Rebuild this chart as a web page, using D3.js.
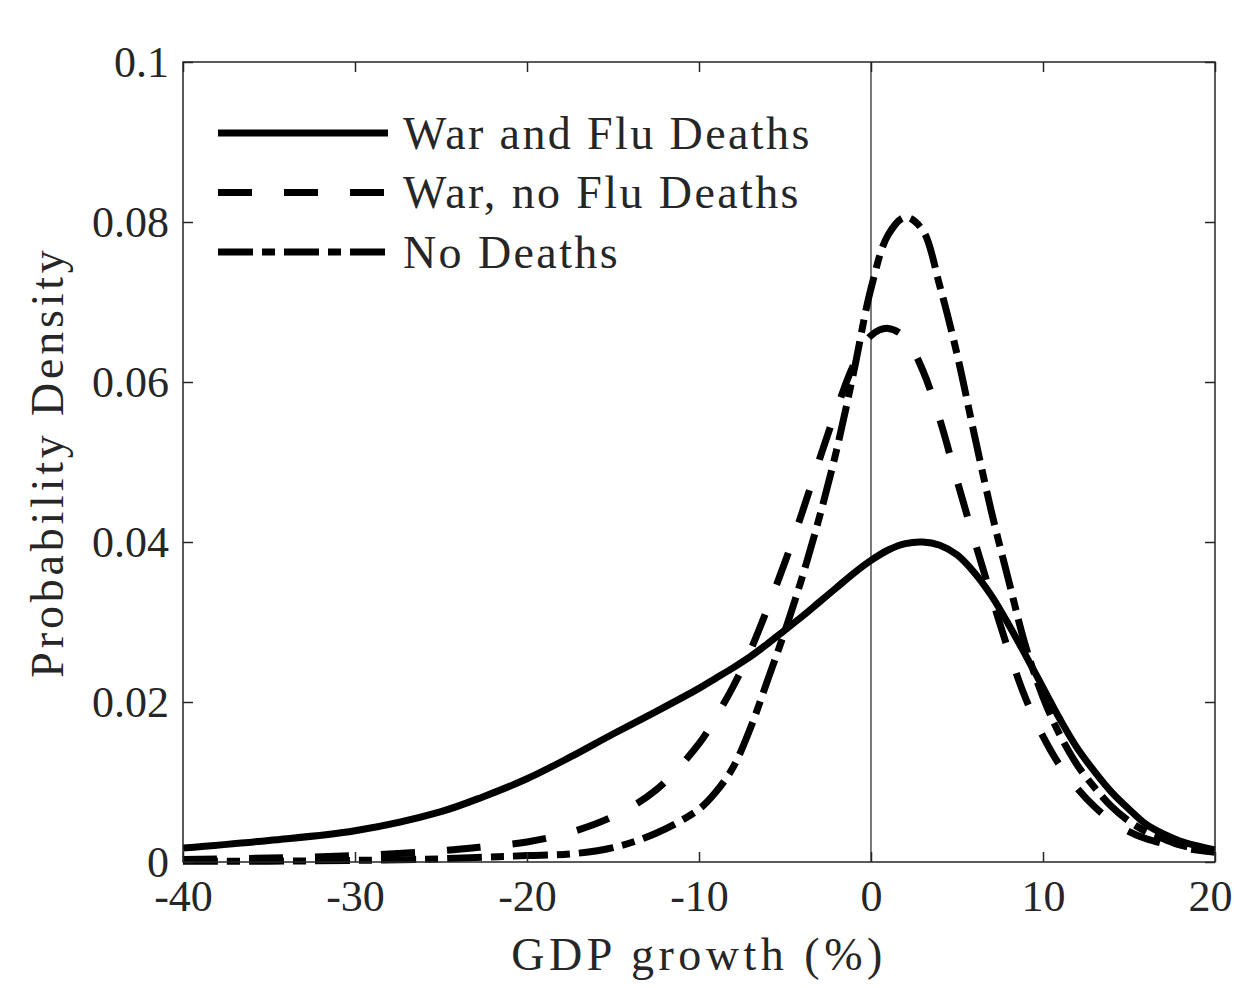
<!DOCTYPE html>
<html>
<head>
<meta charset="utf-8">
<script src="https://cdn.jsdelivr.net/npm/d3@7"></script>
<style>
  body { margin: 0; background: #fff; }
  text { font-family: "Liberation Serif", "Times New Roman", serif; fill: #262626; }
</style>
</head>
<body>
<div id="chart"></div>
<script>
// GDP growth grid (%) and the three densities
var gdp = [-40, -35, -30, -25, -22.5, -20, -17.5, -15, -12.5, -10, -9, -8, -7, -6, -5, -4, -3, -2, -1,
           0, 1, 2, 3, 4, 5, 6, 7, 8, 9, 10, 11, 12, 13, 14, 15, 16, 17, 18, 20];
var warFlu = [0.00175, 0.0027, 0.0039, 0.0063, 0.0082, 0.0104, 0.0131, 0.016, 0.0188, 0.0217, 0.023, 0.0243, 0.0257, 0.0273, 0.029, 0.0307, 0.0325, 0.0343, 0.0361,
              0.0377, 0.039, 0.0398, 0.0400, 0.0396, 0.0384, 0.0362, 0.0333, 0.0297, 0.0258, 0.0218, 0.0178, 0.0142, 0.0113, 0.0087, 0.0066, 0.0047, 0.0035, 0.0026, 0.0015];
var warNoFlu = [0.0003, 0.0005, 0.0008, 0.0014, 0.0019, 0.0025, 0.0037, 0.0057, 0.009, 0.0148, 0.0182, 0.022, 0.0265, 0.0318, 0.0375, 0.0437, 0.0503, 0.0566, 0.0622,
                0.0658, 0.0667, 0.0655, 0.0615, 0.0553, 0.0477, 0.0403, 0.0332, 0.0264, 0.0204, 0.0157, 0.012, 0.0092, 0.0069, 0.0051, 0.0038, 0.0029, 0.0023, 0.0018, 0.0012];
var noDeaths = [0.0001, 0.0001, 0.0002, 0.0004, 0.0006, 0.0008, 0.001, 0.0018, 0.0036, 0.0066, 0.0088, 0.0119, 0.0168, 0.0228, 0.0289, 0.0356, 0.0431, 0.0515, 0.0613,
                0.0717, 0.0784, 0.0806, 0.079, 0.072, 0.0635, 0.0535, 0.0438, 0.0352, 0.0269, 0.0206, 0.0158, 0.0121, 0.0093, 0.0069, 0.0051, 0.0038, 0.0029, 0.0021, 0.0012];

var seriesNames = ["War and Flu Deaths", "War, no Flu Deaths", "No Deaths"];
var xTicks = [-40, -30, -20, -10, 0, 10, 20];
var yTicks = [0, 0.02, 0.04, 0.06, 0.08, 0.1];

var dashes = [null, "34,32", "35,9,13,9"];
var allSeries = [warFlu, warNoFlu, noDeaths];

// set the dimensions and margins of the graph
var margin = {top: 62, right: 19, bottom: 126, left: 183},
    width = 1234 - margin.left - margin.right,
    height = 988 - margin.top - margin.bottom;

var svg = d3.select("#chart")
  .append("svg")
    .attr("width", width + margin.left + margin.right)
    .attr("height", height + margin.top + margin.bottom)
  .append("g")
    .attr("transform", "translate(" + margin.left + "," + margin.top + ")");

var x = d3.scaleLinear().domain([-40, 20]).range([0, width]);
var y = d3.scaleLinear().domain([0, 0.1]).range([height, 0]);

// zero line
svg.append("line")
  .attr("x1", x(0)).attr("x2", x(0))
  .attr("y1", 0).attr("y2", height)
  .attr("stroke", "#7a7a7a")
  .attr("stroke-width", 2);

// curves
var line = d3.line()
  .x(function(d) { return x(d[0]); })
  .y(function(d) { return y(d[1]); })
  .curve(d3.curveCatmullRom.alpha(0.5));

allSeries.forEach(function(vals, i) {
  svg.append("path")
    .datum(gdp.map(function(g, j) { return [g, vals[j]]; }))
    .attr("fill", "none")
    .attr("stroke", "#000")
    .attr("stroke-width", 7)
    .attr("stroke-dasharray", dashes[i])
    .attr("d", line);
});

// axes, ticks pointing inward
var fontSize = 44;
function styleAxis(g, noLabels) {
  g.select(".domain").remove();
  g.selectAll(".tick line").attr("stroke", "#262626").attr("stroke-width", 1.5);
  g.selectAll(".tick text").attr("font-size", fontSize).attr("fill", "#262626");
  if (noLabels) g.selectAll(".tick text").remove();
}

var xAxisG = svg.append("g")
  .attr("transform", "translate(0," + height + ")")
  .call(d3.axisBottom(x).tickValues(xTicks).tickSize(-10).tickPadding(18).tickFormat(function(d) { return String(d); }))
  .call(styleAxis);
// keep the last label inside the window
xAxisG.selectAll(".tick text").filter(function(d) { return d === 20; }).attr("dx", -5);

svg.append("g")
  .call(d3.axisTop(x).tickValues(xTicks).tickSize(-10))
  .call(styleAxis, true);
svg.append("g")
  .call(d3.axisLeft(y).tickValues(yTicks).tickSize(-10).tickPadding(14).tickFormat(function(d) { return d === 0 ? "0" : String(+d.toFixed(2)); }))
  .call(styleAxis);
svg.append("g")
  .attr("transform", "translate(" + width + ",0)")
  .call(d3.axisRight(y).tickValues(yTicks).tickSize(-10))
  .call(styleAxis, true);

// box
svg.append("rect")
  .attr("width", width).attr("height", height)
  .attr("fill", "none")
  .attr("stroke", "#262626")
  .attr("stroke-width", 1.5);

// axis labels
svg.append("text")
  .attr("x", width / 2)
  .attr("y", height + 108)
  .attr("text-anchor", "middle")
  .attr("font-size", 46)
  .attr("letter-spacing", 4.5)
  .text("GDP growth (%)");

svg.append("text")
  .attr("transform", "rotate(-90)")
  .attr("x", -height / 2)
  .attr("y", -120)
  .attr("text-anchor", "middle")
  .attr("font-size", 46)
  .attr("letter-spacing", 3.8)
  .text("Probability Density");

// legend
var legend = svg.append("g").attr("transform", "translate(35,71)");
seriesNames.forEach(function(name, i) {
  var ly = i * 59.5;
  legend.append("line")
    .attr("x1", 0).attr("x2", 170)
    .attr("y1", ly).attr("y2", ly)
    .attr("stroke", "#000")
    .attr("stroke-width", 7)
    .attr("stroke-dasharray", dashes[i]);
  legend.append("text")
    .attr("x", 185)
    .attr("y", ly)
    .attr("dy", "0.34em")
    .attr("font-size", 46)
    .attr("letter-spacing", 2.4)
    .text(name);
});
</script>
</body>
</html>
